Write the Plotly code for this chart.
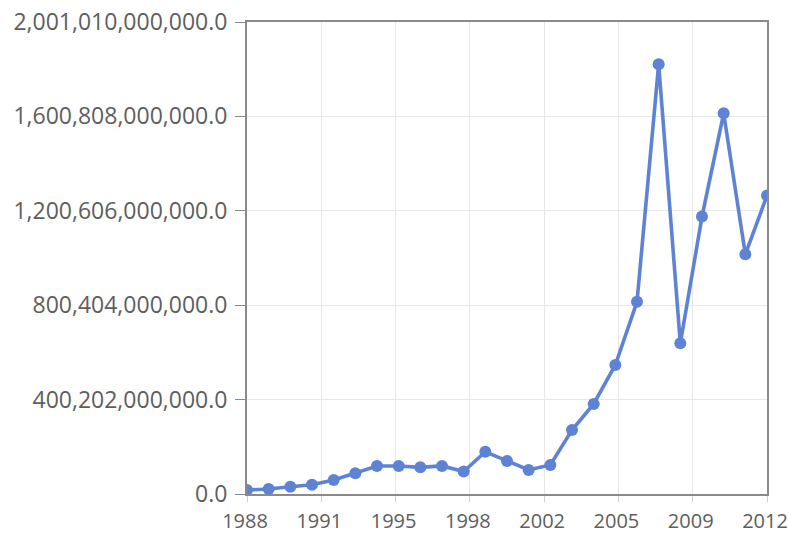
import plotly.graph_objects as go

years = list(range(1988, 2013))
values_e9 = [17, 21, 31, 39, 59, 88, 119, 119, 113, 119, 95, 179, 140, 102, 123,
             271, 382, 547, 815, 1822, 639, 1176, 1614, 1016, 1265]
values = [v * 1e9 for v in values_e9]

y_ticks = [0, 400202000000, 800404000000, 1200606000000, 1600808000000, 2001010000000]
x_tick_labels = ["1988", "1991", "1995", "1998", "2002", "2005", "2009", "2012"]
x_tick_pos = [1988 + i * 24 / 7 for i in range(len(x_tick_labels))]

line_color = "#5e82d4"
frame_color = "#8a8a8a"
text_color = "#5e5e5e"
font_family = "Open Sans, DejaVu Sans, sans-serif"

fig = go.Figure()
fig.add_trace(go.Scatter(
    x=years, y=values, mode="lines+markers",
    line=dict(color=line_color, width=3.6),
    marker=dict(color=line_color, size=12),
    cliponaxis=True,
))

fig.update_layout(
    width=789, height=536,
    margin=dict(l=247, r=22, t=22, b=42, autoexpand=False),
    paper_bgcolor="white", plot_bgcolor="white",
    showlegend=False,
    font=dict(family=font_family, size=23, color=text_color),
)
fig.update_xaxes(
    range=[1988, 2012], tickmode="array", tickvals=x_tick_pos, ticktext=x_tick_labels,
    showgrid=True, gridcolor="#e8e8e8", gridwidth=1,
    showline=True, linecolor=frame_color, linewidth=2, mirror=True,
    ticks="outside", ticklen=6, tickcolor="#cfcfcf", tickwidth=1,
    zeroline=False, automargin=False, ticklabeloverflow="allow",
    ticklabelshift=-2, ticklabelstandoff=2,
    tickfont=dict(family=font_family, size=20, color=text_color),
)
fig.update_yaxes(
    range=[0, 2001010000000], tickmode="array", tickvals=y_ticks, tickformat=",.1f",
    showgrid=True, gridcolor="#e8e8e8", gridwidth=1,
    showline=True, linecolor=frame_color, linewidth=2, mirror=True,
    ticks="outside", ticklen=10, tickcolor=frame_color, tickwidth=1,
    ticklabelstandoff=3, ticklabeloverflow="allow",
    zeroline=False, automargin=False,
    tickfont=dict(family=font_family, size=23, color=text_color),
)

fig.write_html(
    "out.html",
    config={"displayModeBar": False},
    post_script="document.body.style.margin='0';document.body.style.overflow='hidden';",
)
